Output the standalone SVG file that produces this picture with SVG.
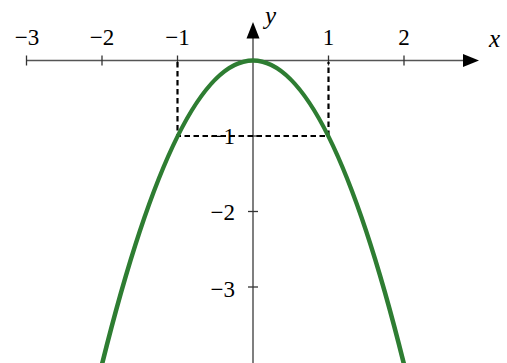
<svg xmlns="http://www.w3.org/2000/svg" width="507" height="363" viewBox="0 0 507 363">
<rect width="507" height="363" fill="#fff"/>
<g id="axes" fill="none">
<line x1="26.5" y1="60.5" x2="465" y2="60.5" stroke="#555" stroke-width="1.5"/>
<polygon points="479,60.5 463,54 463,67" fill="#000"/>
<line x1="253" y1="363" x2="253" y2="37" stroke="#555" stroke-width="1.5"/>
<polygon points="253,22 246.5,38.5 259.5,38.5" fill="#000"/>
<g stroke="#333" stroke-width="1.3">
<line x1="26.5" y1="55.5" x2="26.5" y2="65.5"/>
<line x1="102" y1="55.5" x2="102" y2="65.5"/>
<line x1="177.5" y1="55.5" x2="177.5" y2="65.5"/>
<line x1="328.5" y1="55.5" x2="328.5" y2="65.5"/>
<line x1="404" y1="55.5" x2="404" y2="65.5"/>
<line x1="248" y1="136" x2="258" y2="136"/>
<line x1="248" y1="211.5" x2="258" y2="211.5"/>
<line x1="248" y1="287" x2="258" y2="287"/>
</g>
</g>
<g id="tick-labels" font-family="Times New Roman, Liberation Serif, serif" font-size="23" fill="#000">
<text x="27" y="45" text-anchor="middle">−3</text>
<text x="102" y="45" text-anchor="middle">−2</text>
<text x="177.5" y="45" text-anchor="middle">−1</text>
<text x="328.5" y="45" text-anchor="middle">1</text>
<text x="404" y="45" text-anchor="middle">2</text>
<text x="235" y="143.5" text-anchor="end">−1</text>
<text x="235" y="220" text-anchor="end">−2</text>
<text x="235" y="296.5" text-anchor="end">−3</text>
<text x="489" y="47" font-size="25" font-style="italic">x</text>
<text x="265" y="24" font-size="25" font-style="italic">y</text>
</g>
<g id="guides">
<path d="M177.5,62 V136 H328.5 V62" fill="none" stroke="#000" stroke-width="2.2" stroke-dasharray="5.5 3.5"/>
</g>
<g id="curve">
<path d="M87.4,425.9 Q253,-304.9 418.6,425.9" fill="none" stroke="#2e7d32" stroke-width="4.6"/>
</g>
</svg>
